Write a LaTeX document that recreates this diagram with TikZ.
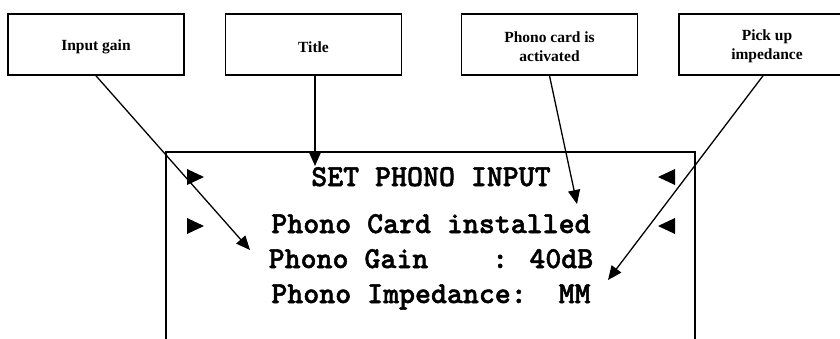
\documentclass[tikz,border=0pt]{standalone}
\usepackage{fontspec}
\setmainfont{Liberation Serif}
\newfontfamily\lcdfont{lmmonolt10-bold.otf}[FakeBold=1.6]
\usetikzlibrary{arrows.meta}
\tikzset{
  callout/.style={draw=black, line width=1.6pt, minimum width=176pt, minimum height=61pt,
    inner sep=0pt},
  calltext/.style={inner sep=0pt, align=center, font=\fontsize{15.5}{18.5}\selectfont\bfseries},
  lcdline/.style={anchor=base, inner sep=0pt, font=\fontsize{30.4}{32}\selectfont\lcdfont},
  pointer/.style={line width=1.3pt, -{Triangle[length=14pt,width=12pt]}},
  marker/.style={fill=black}
}
\begin{document}
\begin{tikzpicture}[x=1pt,y=-1pt]
\useasboundingbox (0,0) rectangle (840,338);
% display frame (open at bottom)
\draw[line width=1.8pt] (166,345) -- (166,152) -- (695,152) -- (695,345);
% callout boxes
\node[callout] (b1) at (96,44.5) {};
\node[callout] (b2) at (313.5,44.5) {};
\node[callout] (b3) at (549.5,44.5) {};
\node[callout] (b4) at (767,44.5) {};
\node[calltext] (l1) at (96,47) {Input gain};
\node[calltext] (l2) at (313.5,47) {Title};
\node[calltext] (l3) at (549.5,46.5) {Phono card is\\activated};
\node[calltext] (l4) at (767,46.5) {Pick up\\impedance};
% display text
\node[lcdline] (t1) at (431,186) {SET PHONO INPUT};
\node[lcdline] (t2) at (431,233) {Phono Card installed};
\node[lcdline] (t3) at (431,268) {Phono Gain~~~~: 40dB};
\node[lcdline] (t4) at (431,303) {Phono Impedance:~~MM};
% markers
\fill[marker] (187,169) -- (204,177) -- (187,185) -- cycle;
\fill[marker] (187,218) -- (204,226) -- (187,234) -- cycle;
\fill[marker] (675,169) -- (658,177) -- (675,185) -- cycle;
\fill[marker] (675,218) -- (658,226) -- (675,234) -- cycle;
% arrow tips
\coordinate (a1) at (250,250);
\coordinate (a2) at (315,166);
\coordinate (a3) at (577,204);
\coordinate (a4) at (608,280);
% connectors
\draw[pointer] (b1.south) -- (a1);
\draw[pointer] (b2.south -| a2) -- (a2);
\draw[pointer] (b3.south) -- (a3);
\draw[pointer] (b4.south) ++(-4,0) -- (a4);
\end{tikzpicture}
\end{document}
